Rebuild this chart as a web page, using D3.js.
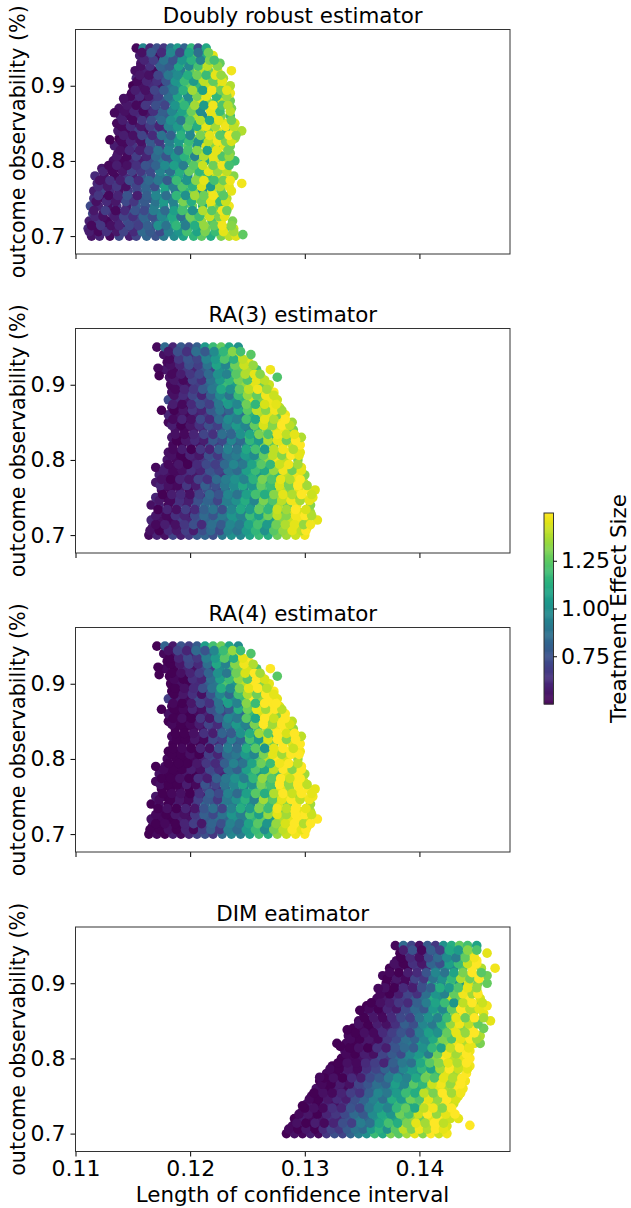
<!DOCTYPE html>
<html><head><meta charset="utf-8">
<script src="https://cdn.jsdelivr.net/npm/d3@7"></script>
<style>html,body{margin:0;padding:0;background:#fff}svg{display:block;font-family:"DejaVu Sans",sans-serif}</style>
</head><body><div id="c"></div>
<script>
// y rows: outcome observability
const rowY=[.70,.71,.72,.73,.74,.75,.76,.77,.78,.79,.80,.81,.82,.83,.84,.85,.86,.87,.88,.89,.90,.91,.92,.93,.94,.95];
const rowY2=[.706,.714,.726,.734,.746,.754,.766,.774,.786,.794,.806,.814,.826,.834,.846,.854,.866,.874,.886,.894,.906,.914,.926,.934,.944];
// x in 1e-4 units of CI length, effect in 1/100 units
const drX=[
[1114,1121,1130,1138,1147,1153,1162,1170,1177,1186,1194,1203,1210,1218,1227,1234,1240],
[1111,1118,1126,1134,1143,1150,1158,1166,1174,1182,1190,1198,1207,1214,1222,1230,1238],
[1112,1120,1128,1137,1145,1153,1161,1170,1178,1186,1195,1202,1210,1219,1227,1237],
[1115,1124,1132,1140,1148,1157,1165,1173,1182,1190,1198,1206,1215,1223,1231],
[1113,1120,1129,1136,1145,1153,1161,1169,1177,1186,1194,1202,1211,1219,1226,1234],
[1116,1125,1133,1141,1149,1157,1166,1174,1182,1190,1198,1207,1215,1223,1232],
[1116,1122,1130,1138,1146,1154,1162,1170,1178,1187,1195,1203,1211,1219,1227,1236],
[1119,1127,1135,1143,1151,1159,1167,1175,1183,1191,1199,1207,1215,1223,1231,1245],
[1117,1125,1134,1142,1150,1158,1166,1174,1182,1190,1198,1207,1215,1223,1231,1238],
[1123,1131,1139,1147,1155,1163,1171,1179,1187,1195,1203,1211,1219,1227,1232],
[1133,1141,1149,1157,1165,1173,1181,1189,1197,1205,1213,1221,1229,1239],
[1137,1145,1153,1161,1169,1177,1185,1193,1201,1209,1217,1225,1235],
[1134,1142,1150,1158,1166,1174,1182,1190,1198,1206,1214,1222,1230,1235],
[1138,1146,1154,1162,1170,1178,1186,1194,1202,1210,1218,1226,1233,1239],
[1137,1144,1152,1160,1168,1176,1184,1192,1200,1208,1216,1224,1232,1239,1245],
[1136,1142,1150,1158,1166,1174,1182,1190,1198,1206,1214,1222,1230,1239],
[1139,1147,1155,1163,1171,1179,1187,1195,1203,1211,1219,1227,1235],
[1138,1146,1154,1162,1170,1178,1186,1194,1202,1210,1218,1226,1236],
[1143,1151,1159,1167,1175,1183,1191,1199,1207,1215,1223,1228,1235],
[1149,1157,1165,1173,1181,1189,1197,1205,1213,1221,1229,1235],
[1150,1158,1166,1174,1182,1190,1198,1206,1214,1222,1228,1235],
[1153,1161,1169,1177,1185,1193,1201,1209,1217,1223,1229],
[1152,1160,1168,1176,1184,1192,1200,1208,1216,1224,1236],
[1157,1165,1173,1181,1189,1197,1205,1213,1221,1226],
[1156,1164,1172,1180,1188,1196,1204,1212,1220],
[1153,1159,1165,1171,1177,1183,1189,1195,1201,1207,1214]];
const drV=[
[55,60,52,72,58,70,82,75,90,98,108,115,125,112,130,140,145],
[62,55,50,68,54,75,82,73,92,105,96,118,110,128,138,125,142],
[58,66,52,60,74,70,85,80,100,112,98,125,135,122,146,130],
[70,55,64,52,78,68,88,95,84,110,120,104,132,144,136],
[72,60,54,66,58,80,76,92,102,96,118,128,112,140,126,148],
[64,52,74,60,70,86,78,98,90,122,108,134,120,146,138],
[58,70,62,54,68,76,84,92,104,88,116,130,100,142,128,146],
[60,55,72,66,80,74,88,100,112,96,124,106,136,146,130,148],
[62,54,52,64,58,78,72,90,104,110,98,128,118,142,148,132],
[56,60,52,68,62,76,88,82,108,96,130,120,146,124,140],
[54,52,62,58,74,92,80,100,118,132,112,146,136,118],
[52,60,54,72,66,86,104,96,126,140,110,148,130],
[58,52,66,56,78,70,94,110,124,100,144,132,146,128],
[50,64,56,72,62,90,98,108,134,116,148,122,140,136],
[56,52,68,54,76,64,96,110,102,142,126,146,120,148,138],
[52,60,54,64,74,60,100,92,126,108,140,124,146,144],
[58,52,62,56,82,78,106,116,138,98,146,130,120],
[54,56,68,60,52,92,86,112,128,146,110,148,130],
[54,60,52,66,76,94,120,104,146,132,118,142,128],
[52,58,54,64,84,100,118,110,136,146,124,148],
[50,54,62,56,88,104,126,116,142,130,146,138],
[60,52,56,72,94,110,104,132,124,148,136],
[54,58,52,80,96,92,124,140,128,146,148],
[56,52,74,86,90,118,108,134,144,126],
[58,70,54,92,80,100,122,112,146],
[52,96,60,74,66,90,104,82,116,72,110]];
const drX2=[
[1112,1120,1127,1136,1142,1151,1158,1165,1174,1181,1190,1197,1206,1213,1222,1229,1238],
[1114,1122,1131,1138,1147,1155,1163,1172,1179,1188,1196,1204,1212,1221,1228,1236],
[1117,1124,1134,1142,1150,1159,1167,1175,1184,1192,1200,1208,1217,1225,1230],
[1116,1126,1135,1143,1152,1160,1168,1178,1186,1193,1202,1211,1219,1228,1232],
[1118,1127,1135,1144,1151,1160,1170,1177,1185,1194,1201,1210,1218,1226,1231],
[1120,1129,1137,1145,1154,1162,1170,1179,1188,1196,1204,1212,1220,1229],
[1120,1128,1136,1144,1153,1161,1169,1178,1185,1193,1202,1210,1218,1226,1234],
[1121,1130,1139,1147,1155,1164,1172,1180,1188,1197,1205,1212,1221,1229,1235],
[1124,1132,1141,1149,1157,1165,1174,1183,1191,1199,1208,1216,1224,1232],
[1129,1136,1145,1153,1161,1170,1178,1186,1194,1203,1211,1220,1228,1234],
[1136,1145,1153,1162,1170,1179,1187,1195,1204,1212,1220,1228,1234],
[1139,1147,1156,1164,1172,1181,1190,1198,1206,1215,1223,1233],
[1140,1148,1157,1165,1173,1182,1190,1199,1207,1216,1224,1231,1236],
[1142,1150,1158,1167,1175,1183,1192,1200,1209,1217,1226,1234,1240],
[1140,1148,1157,1165,1173,1181,1189,1198,1206,1214,1222,1231,1238],
[1141,1150,1158,1166,1175,1183,1192,1200,1209,1217,1225,1236],
[1143,1151,1159,1168,1176,1184,1193,1201,1209,1218,1226,1235],
[1145,1153,1161,1170,1178,1187,1195,1204,1212,1220,1228,1233],
[1148,1156,1164,1172,1181,1189,1198,1206,1214,1223,1232],
[1152,1161,1169,1177,1186,1194,1202,1211,1219,1227,1232],
[1154,1162,1171,1179,1187,1195,1203,1212,1220,1228],
[1156,1164,1172,1181,1189,1198,1206,1214,1222,1227],
[1157,1165,1174,1182,1190,1199,1207,1215,1224],
[1160,1168,1177,1185,1193,1201,1209,1217,1221],
[1158,1166,1175,1183,1191,1199,1207,1216]];
const drV2=[
[58,52,64,56,70,62,84,78,72,94,102,120,108,130,118,146,136],
[52,66,54,60,72,68,80,100,88,116,92,112,134,126,148,132],
[60,54,58,70,64,82,74,96,110,86,128,118,142,130,146],
[56,68,52,62,76,72,92,84,106,120,100,138,124,148,128],
[54,62,56,72,66,78,88,104,94,130,112,126,146,118,142],
[66,52,60,76,58,80,96,86,116,100,136,128,148,124],
[62,56,66,54,70,82,74,108,92,122,114,144,104,138,146],
[54,64,58,74,62,84,90,78,118,102,132,146,120,128,148],
[60,52,56,70,66,72,94,86,112,126,116,146,134,140],
[52,58,54,64,76,82,98,106,92,124,142,128,148,120],
[56,52,68,60,84,76,102,114,94,138,146,122,134],
[54,62,58,70,88,96,84,120,132,108,146,128],
[52,60,54,78,66,92,104,118,100,140,148,130,144],
[58,54,70,62,88,80,114,96,130,146,124,150,132],
[52,62,56,68,60,94,104,124,112,146,136,148,140],
[58,52,66,74,84,100,90,122,138,110,146,128],
[54,60,52,64,80,96,108,128,98,146,118,140],
[56,52,66,74,70,102,116,136,104,148,122,138],
[52,62,56,68,86,108,98,130,146,116,134],
[58,54,70,78,92,114,136,106,148,128,146],
[52,60,64,76,102,118,104,140,126,146],
[56,54,70,90,98,112,128,118,146,134],
[54,64,82,78,108,96,120,140,132],
[60,68,88,76,102,114,94,130,120],
[54,78,62,96,70,108,86,128]];
const drExtraX=[1142,1134,1130,1246],drExtraY=[.883,.864,.828,.702],drExtraV=[54,52,50,125];

const raX=[
[1164,1171,1178,1185,1192,1199,1206,1213,1220,1228,1236,1244,1252,1260,1268,1276,1284,1292,1300],
[1167,1175,1183,1191,1199,1207,1215,1223,1231,1239,1247,1255,1263,1271,1279,1287,1295,1302],
[1166,1174,1182,1190,1198,1206,1214,1222,1230,1238,1246,1254,1262,1270,1278,1286,1294,1302,1311],
[1176,1184,1192,1200,1208,1216,1224,1232,1240,1248,1256,1264,1272,1280,1288,1296,1305],
[1166,1173,1181,1189,1197,1205,1213,1221,1229,1237,1245,1253,1261,1269,1277,1285,1293,1305],
[1170,1178,1186,1194,1202,1210,1218,1226,1234,1242,1250,1258,1266,1274,1282,1290,1298,1307],
[1175,1183,1191,1199,1207,1215,1223,1231,1239,1247,1255,1263,1271,1279,1287,1295,1303,1309],
[1170,1178,1186,1194,1202,1210,1218,1226,1234,1242,1250,1258,1266,1274,1282,1290,1299],
[1173,1181,1189,1197,1205,1213,1221,1229,1237,1245,1253,1261,1269,1277,1285,1293,1300],
[1170,1178,1186,1194,1202,1210,1218,1226,1234,1242,1250,1258,1266,1274,1282,1290,1297],
[1180,1188,1196,1204,1212,1220,1228,1236,1244,1252,1260,1268,1276,1284,1294],
[1181,1189,1197,1205,1213,1221,1229,1237,1245,1253,1261,1269,1277,1285,1296],
[1185,1193,1201,1209,1217,1225,1233,1241,1249,1257,1265,1273,1281,1289,1296],
[1184,1192,1200,1208,1216,1224,1232,1240,1248,1256,1264,1272,1280,1288,1297],
[1187,1195,1203,1211,1219,1227,1235,1243,1251,1259,1267,1275,1283,1290],
[1181,1189,1197,1205,1213,1221,1229,1237,1245,1253,1261,1269,1277,1289],
[1181,1189,1197,1205,1213,1221,1229,1237,1245,1253,1261,1269,1276,1283],
[1184,1192,1200,1208,1216,1224,1232,1240,1248,1256,1264,1272,1278],
[1181,1189,1197,1205,1213,1221,1229,1237,1245,1253,1261,1269,1276],
[1184,1192,1200,1208,1216,1224,1232,1240,1248,1256,1264,1273],
[1183,1191,1199,1207,1215,1223,1231,1239,1247,1255,1263,1269],
[1182,1190,1198,1206,1214,1222,1230,1238,1246,1254,1262,1276],
[1178,1186,1194,1202,1210,1218,1226,1234,1242,1250,1258,1270],
[1180,1188,1196,1204,1212,1220,1228,1236,1244,1251],
[1177,1185,1193,1201,1209,1217,1225,1233,1241,1253],
[1171,1178,1185,1192,1199,1206,1213,1220,1227,1234,1242]];
const ra3V=[
[52,60,54,70,58,66,78,82,74,90,100,96,108,118,112,128,136,142,148],
[56,52,64,54,72,80,84,76,98,92,104,116,110,130,124,140,146,138],
[60,54,52,68,60,76,82,90,86,102,96,114,122,108,132,142,148,140,146],
[58,52,62,56,70,84,78,94,100,90,112,120,134,126,146,144,136],
[54,60,52,66,58,74,88,80,96,92,108,100,124,116,138,128,148,132],
[60,52,62,54,70,64,82,92,88,104,96,118,112,134,142,130,148,146],
[54,52,58,52,66,74,70,86,100,94,110,122,116,140,132,146,150,144],
[56,62,52,60,54,72,68,82,90,106,96,120,104,136,128,146,140],
[58,54,52,62,56,70,78,66,92,98,112,104,128,118,140,148,132],
[52,60,54,50,64,58,74,54,86,94,104,96,120,110,142,130,146],
[56,52,50,58,66,78,72,88,84,102,118,134,148,140,130],
[54,52,62,56,60,76,86,82,98,92,120,108,136,148,146],
[52,50,58,54,74,66,88,80,94,108,130,124,146,142,150],
[56,50,52,62,72,80,74,92,118,100,136,116,148,140,138],
[54,52,56,60,70,78,84,102,90,118,132,144,148,130],
[52,58,50,64,60,72,90,84,106,96,142,130,148,136],
[60,54,52,58,66,80,74,96,88,114,138,146,128,148],
[56,52,50,62,72,78,66,100,92,120,134,148,140],
[72,62,56,76,70,88,108,100,116,144,130,148,142],
[54,52,64,74,68,96,114,104,128,146,138,150],
[52,58,54,68,82,92,118,106,134,146,128,142],
[54,60,52,76,66,94,84,112,130,108,146,122],
[56,52,66,60,78,72,100,116,126,138,120,148],
[52,62,70,80,84,96,118,108,130,146],
[54,58,72,64,92,86,110,126,144,124],
[52,84,60,78,70,80,104,118,126,110,100]];
const ra4V=[
[50,52,50,58,52,60,68,74,66,84,96,92,106,120,112,134,142,148,150],
[52,50,56,50,62,72,80,68,94,88,102,118,110,136,126,146,150,142],
[54,52,50,58,54,68,78,86,82,100,94,116,126,106,138,146,150,144,150],
[52,50,54,52,60,80,74,92,100,86,114,124,140,130,150,146,138],
[50,54,50,58,52,66,84,76,94,90,108,98,128,118,144,132,150,136],
[56,50,54,50,62,58,78,90,84,104,94,122,112,140,146,134,150,148],
[50,50,52,50,60,70,64,84,98,92,112,126,118,146,136,150,150,146],
[52,56,50,54,50,64,62,78,88,108,94,124,104,142,132,150,144],
[54,50,50,56,50,62,74,60,90,96,114,104,134,120,146,150,136],
[50,54,50,50,58,52,70,50,84,92,104,94,124,112,148,134,150],
[52,50,50,52,60,72,68,86,80,100,122,140,150,144,134],
[50,50,54,50,54,70,84,80,96,90,124,106,142,150,148],
[50,50,52,50,68,60,86,78,92,110,136,128,150,146,150],
[52,50,50,56,66,76,70,90,122,98,142,118,150,144,140],
[50,50,52,54,64,74,82,102,88,120,138,148,150,134],
[50,52,50,58,54,66,88,82,106,94,148,134,150,140],
[54,50,50,52,60,76,70,94,86,118,144,150,132,150],
[52,50,50,56,66,74,60,98,90,124,140,150,146],
[68,58,52,72,66,86,110,98,118,150,134,150,146],
[50,50,58,70,64,94,116,102,132,150,142,150],
[50,54,50,62,80,90,122,104,140,150,132,146],
[50,54,50,70,62,92,80,114,134,106,150,124],
[52,50,60,54,72,68,98,118,130,144,122,150],
[50,56,66,76,82,94,120,106,134,150],
[52,54,68,60,90,84,112,128,148,122],
[50,82,56,76,68,78,106,120,128,108,98]];
const raX2=[
[1165,1173,1181,1188,1196,1203,1211,1218,1226,1233,1241,1249,1257,1265,1273,1281,1289,1297,1301],
[1170,1178,1187,1195,1203,1210,1219,1227,1235,1243,1251,1259,1267,1275,1283,1291,1299,1305],
[1170,1179,1187,1195,1204,1212,1220,1228,1236,1244,1252,1260,1268,1276,1284,1292,1300,1306],
[1172,1180,1188,1196,1204,1212,1220,1228,1236,1244,1252,1260,1268,1276,1284,1292,1301],
[1173,1183,1191,1199,1207,1215,1224,1232,1240,1248,1256,1264,1272,1280,1288,1296,1304],
[1176,1184,1192,1200,1208,1217,1225,1233,1241,1249,1257,1265,1273,1281,1289,1297,1306],
[1174,1181,1189,1197,1205,1213,1222,1230,1238,1246,1254,1262,1270,1278,1286,1294,1302],
[1175,1183,1191,1199,1207,1215,1223,1231,1239,1247,1255,1263,1271,1279,1287,1296],
[1177,1185,1193,1201,1209,1217,1225,1233,1241,1249,1257,1265,1273,1281,1289,1297],
[1181,1190,1198,1206,1214,1222,1230,1238,1246,1254,1262,1270,1278,1286,1294],
[1184,1192,1200,1208,1216,1224,1232,1240,1248,1256,1264,1272,1280,1288,1295],
[1185,1193,1201,1209,1217,1225,1233,1241,1249,1257,1265,1273,1281,1290],
[1188,1196,1204,1212,1220,1228,1236,1244,1252,1260,1268,1276,1284,1292],
[1187,1195,1203,1212,1220,1228,1236,1244,1252,1260,1268,1276,1284,1291],
[1184,1192,1200,1208,1216,1224,1232,1240,1248,1256,1264,1272,1280,1287],
[1185,1193,1201,1209,1217,1225,1233,1241,1249,1257,1265,1273,1283],
[1186,1194,1202,1210,1218,1226,1234,1242,1250,1258,1266,1274,1280],
[1185,1193,1201,1209,1217,1225,1233,1241,1249,1257,1265,1275],
[1186,1194,1202,1210,1218,1226,1234,1242,1250,1258,1266,1273],
[1187,1195,1203,1211,1219,1227,1235,1243,1251,1259,1267],
[1186,1194,1202,1210,1218,1226,1234,1242,1250,1258,1265],
[1184,1192,1200,1208,1216,1224,1232,1240,1248,1256,1261],
[1183,1191,1199,1207,1215,1223,1231,1239,1247,1255],
[1182,1190,1198,1206,1214,1222,1230,1238,1246],
[1181,1189,1197,1205,1213,1221,1229,1237,1244]];
const ra3V2=[
[54,50,62,56,68,58,74,84,72,94,88,104,116,100,124,134,146,140,150],
[52,58,54,66,74,62,86,78,96,90,108,120,104,128,138,146,134,148],
[56,52,64,60,72,84,76,90,102,94,118,106,128,140,132,148,150,138],
[50,60,54,68,62,80,88,74,96,110,104,126,116,142,136,150,144],
[56,52,64,58,74,82,70,92,100,112,96,130,122,140,148,136,146],
[50,58,62,54,70,84,76,96,88,106,120,112,132,146,138,150,142],
[60,54,52,66,58,80,74,90,98,110,102,126,118,144,130,150,136],
[54,50,60,56,70,64,84,92,100,94,114,130,122,146,138,150],
[58,52,54,64,60,76,70,90,84,106,118,110,134,148,128,146],
[52,56,50,62,72,68,84,96,90,108,124,116,142,148,136],
[54,50,60,56,74,66,86,92,104,98,126,140,132,150,146],
[52,58,50,66,60,80,94,88,110,120,104,140,148,138],
[50,56,62,58,78,72,96,84,116,104,138,146,128,150],
[54,52,60,70,64,86,82,100,110,130,122,148,140,146],
[58,50,56,64,74,68,92,104,96,126,144,132,150,140],
[52,60,54,72,62,84,98,92,120,110,146,138,150],
[50,56,66,60,78,90,82,110,124,140,132,148,136],
[58,52,62,74,68,90,104,96,128,116,144,146],
[54,62,70,60,80,98,88,118,134,126,148,142],
[52,60,66,78,90,110,100,126,140,148,136],
[56,52,70,64,88,104,116,130,122,146,140],
[52,58,66,72,84,100,94,124,138,146,132],
[54,60,74,68,88,108,96,128,142,134],
[52,66,76,70,94,104,122,114,140],
[56,74,64,86,78,98,116,132,120]];
const ra4V2=[
[50,50,54,50,60,52,68,80,66,92,84,104,118,98,130,140,150,146,150],
[50,52,50,60,68,56,82,74,94,86,108,124,102,134,144,150,138,150],
[52,50,56,54,66,80,72,88,102,92,120,106,134,146,136,150,150,142],
[50,54,50,60,56,76,86,70,94,112,104,130,118,148,140,150,146],
[52,50,56,52,68,78,66,90,100,114,94,136,124,146,150,140,148],
[50,52,54,50,64,80,72,94,84,106,124,112,138,150,142,150,146],
[54,50,50,58,52,76,70,88,96,110,100,130,120,150,134,150,140],
[50,50,54,50,64,58,80,90,100,92,116,134,124,150,142,150],
[52,50,50,58,54,72,64,88,80,106,122,110,140,150,132,150],
[50,50,50,56,66,62,80,94,88,108,128,118,148,150,140],
[50,50,54,50,68,60,84,90,104,96,130,146,136,150,150],
[50,52,50,60,54,76,92,84,112,124,102,146,150,142],
[50,50,56,52,72,68,94,82,120,104,144,150,132,150],
[50,50,54,64,58,82,78,100,112,136,124,150,144,150],
[52,50,52,58,70,62,90,104,94,130,150,136,150,144],
[50,54,50,66,56,80,96,90,124,110,150,142,150],
[50,52,60,54,74,88,78,112,128,146,136,150,140],
[52,50,56,70,64,88,106,94,132,118,150,150],
[50,56,64,54,76,96,84,120,138,128,150,146],
[50,54,62,74,88,112,98,130,146,150,140],
[52,50,64,60,86,106,118,134,124,150,144],
[50,54,60,68,82,100,90,128,144,150,136],
[50,56,70,62,86,110,94,132,148,138],
[50,60,72,66,92,104,124,112,146],
[54,70,60,84,76,96,118,134,118]];
const raExtraX=[1172,1173,1175],raExtraY=[.922,.912,.866],ra3ExtraV=[52,50,50],ra4ExtraV=[50,50,50];

const dimX=[
[1284,1291,1298,1305,1312,1319,1326,1333,1340,1347,1354,1361,1368,1375,1382,1389,1396,1403,1410,1417,1424],
[1289,1297,1305,1313,1321,1329,1337,1345,1353,1361,1369,1377,1385,1393,1401,1409,1417,1424],
[1291,1299,1307,1315,1323,1331,1339,1347,1355,1363,1371,1379,1387,1395,1403,1411,1419,1427,1434],
[1298,1306,1314,1322,1330,1338,1346,1354,1362,1370,1378,1386,1394,1402,1410,1418,1427],
[1302,1310,1318,1326,1334,1342,1350,1358,1366,1374,1382,1390,1398,1406,1414,1422,1430],
[1306,1314,1322,1330,1338,1346,1354,1362,1370,1378,1386,1394,1402,1410,1418,1426,1434],
[1310,1318,1326,1334,1342,1350,1358,1366,1374,1382,1390,1398,1406,1414,1422,1430,1438],
[1313,1321,1329,1337,1345,1353,1361,1369,1377,1385,1393,1401,1409,1417,1425,1433,1440],
[1319,1327,1335,1343,1351,1359,1367,1375,1383,1391,1399,1407,1415,1423,1431,1441],
[1324,1332,1340,1348,1356,1364,1372,1380,1388,1396,1404,1412,1420,1428,1436,1444],
[1332,1340,1348,1356,1364,1372,1380,1388,1396,1404,1412,1420,1428,1436,1444],
[1335,1343,1351,1359,1367,1375,1383,1391,1399,1407,1415,1423,1431,1439,1444],
[1328,1336,1344,1352,1360,1368,1376,1384,1392,1400,1408,1416,1424,1432,1440,1448,1453],
[1338,1346,1354,1362,1370,1378,1386,1394,1402,1410,1418,1426,1434,1442,1453],
[1342,1350,1358,1366,1374,1382,1390,1398,1406,1414,1422,1430,1438,1446,1456],
[1347,1355,1363,1371,1379,1387,1395,1403,1411,1419,1427,1435,1443,1451,1462],
[1351,1359,1367,1375,1383,1391,1399,1407,1415,1423,1431,1439,1447,1456],
[1354,1362,1370,1378,1386,1394,1402,1410,1418,1426,1434,1442,1450,1459],
[1363,1371,1379,1387,1395,1403,1411,1419,1427,1435,1443,1453],
[1367,1375,1383,1391,1399,1407,1415,1423,1431,1439,1450],
[1371,1379,1387,1395,1403,1411,1419,1427,1435,1443,1451,1459],
[1368,1376,1384,1392,1400,1408,1416,1424,1432,1440,1448,1459],
[1374,1382,1390,1398,1406,1414,1422,1430,1438,1446,1454,1466],
[1380,1388,1396,1404,1412,1420,1428,1436,1444,1450],
[1383,1391,1399,1407,1415,1423,1431,1439,1447,1459],
[1379,1386,1393,1400,1407,1414,1421,1428,1435,1442,1450]];
const dimV=[
[50,54,52,58,52,66,74,70,82,92,100,118,110,130,124,136,146,132,150,142,148],
[52,56,50,54,62,72,78,88,96,104,116,128,120,138,148,140,150,144],
[50,58,52,56,64,60,76,90,82,100,112,106,124,134,128,146,150,142,146],
[54,52,62,58,70,80,74,96,88,108,120,100,132,144,150,138,146],
[56,50,60,54,66,74,84,92,104,98,118,110,126,148,136,150,142],
[52,54,50,62,58,78,70,92,100,110,96,124,136,128,150,140,146],
[54,50,58,52,66,72,84,90,102,96,118,112,132,146,138,150,148],
[50,56,52,60,74,68,88,80,100,108,122,114,140,130,150,144,148],
[52,50,58,54,68,76,72,92,86,106,100,130,118,146,136,150],
[50,52,56,60,66,74,84,78,98,108,114,138,126,150,142,148],
[50,52,54,58,72,66,84,94,106,118,132,150,140,146,150],
[54,50,52,62,58,70,80,92,100,112,126,144,150,136,148],
[50,52,50,56,54,64,76,84,90,104,96,124,132,148,138,146,130],
[52,50,54,60,66,74,82,78,98,112,104,136,150,142,138],
[50,52,50,62,58,70,76,88,102,96,118,146,132,150,128],
[52,50,56,60,68,64,80,94,100,108,140,122,148,124,146],
[54,58,52,64,70,76,86,98,114,104,132,150,138,146],
[50,60,54,66,74,72,90,106,100,122,140,150,136,148],
[52,56,62,68,78,86,112,100,140,128,150,144],
[54,50,60,74,70,84,100,116,132,146,138],
[50,54,52,64,76,110,96,120,104,144,130,126],
[52,50,60,56,72,82,92,124,110,138,150,128],
[50,54,50,66,60,86,102,96,122,150,138,148],
[52,56,64,58,76,100,90,130,146,150],
[50,72,60,66,78,92,112,118,140,146],
[52,84,70,54,78,66,100,112,126,120,108]];
const dimX2=[
[1286,1294,1301,1309,1316,1323,1330,1337,1344,1351,1358,1365,1372,1379,1386,1393,1400,1407,1414,1421],
[1293,1301,1309,1317,1325,1333,1341,1349,1357,1365,1373,1381,1389,1397,1405,1413,1421],
[1295,1303,1311,1319,1327,1335,1343,1351,1359,1367,1375,1383,1391,1399,1407,1415,1423,1431],
[1300,1308,1316,1324,1332,1340,1348,1356,1364,1372,1380,1388,1396,1404,1412,1420,1428],
[1304,1312,1320,1328,1336,1344,1352,1360,1368,1376,1384,1392,1400,1408,1416,1424,1432],
[1308,1316,1324,1332,1340,1348,1356,1364,1372,1380,1388,1396,1404,1412,1420,1428,1436],
[1315,1323,1331,1339,1347,1355,1363,1371,1379,1387,1395,1403,1411,1419,1427,1436],
[1317,1325,1333,1341,1349,1357,1365,1373,1381,1389,1397,1405,1413,1421,1429,1437],
[1322,1330,1338,1346,1354,1362,1370,1378,1386,1394,1402,1410,1418,1426,1434,1442],
[1329,1337,1345,1353,1361,1369,1377,1385,1393,1401,1409,1417,1425,1433,1441],
[1336,1344,1352,1360,1368,1376,1384,1392,1400,1408,1416,1424,1432,1441],
[1339,1347,1355,1363,1371,1379,1387,1395,1403,1411,1419,1427,1435,1443],
[1340,1348,1356,1364,1372,1380,1388,1396,1404,1412,1420,1428,1436,1444,1450],
[1344,1352,1360,1368,1376,1384,1392,1400,1408,1416,1424,1432,1440,1448],
[1347,1355,1363,1371,1379,1387,1395,1403,1411,1419,1427,1435,1443,1451],
[1352,1360,1368,1376,1384,1392,1400,1408,1416,1424,1432,1440,1448,1456],
[1356,1364,1372,1380,1388,1396,1404,1412,1420,1428,1436,1444,1452],
[1358,1366,1374,1382,1390,1398,1406,1414,1422,1430,1438,1446,1455],
[1366,1374,1382,1390,1398,1406,1414,1422,1430,1438,1446,1451],
[1370,1378,1386,1394,1402,1410,1418,1426,1434,1442,1450],
[1372,1380,1388,1396,1404,1412,1420,1428,1436,1444,1452],
[1374,1382,1390,1398,1406,1414,1422,1430,1438,1446,1454],
[1378,1386,1394,1402,1410,1418,1426,1434,1442,1450],
[1384,1392,1400,1408,1416,1424,1432,1440,1448],
[1386,1394,1402,1410,1418,1426,1434,1442,1450]];
const dimV2=[
[52,50,56,50,62,70,66,78,88,84,104,114,100,124,140,130,148,138,150,146],
[54,50,58,52,60,74,68,92,86,108,120,112,130,146,136,150,140],
[52,56,50,60,66,72,84,78,98,110,102,128,120,142,150,134,146,150],
[50,54,52,64,60,76,70,90,100,94,116,126,110,140,148,132,150],
[52,50,56,62,58,74,82,94,86,112,104,128,122,146,134,150,144],
[50,54,52,60,68,64,80,96,90,104,118,112,140,130,150,136,148],
[52,50,58,54,70,76,86,82,106,96,124,116,142,148,134,150],
[50,54,50,62,58,72,78,90,100,94,110,128,122,146,138,150],
[52,50,56,52,64,70,82,76,96,104,116,108,136,150,142,146],
[50,54,52,62,68,60,80,90,86,110,124,132,146,138,150],
[52,50,58,54,70,78,72,96,104,92,128,148,136,150],
[50,54,50,64,58,76,84,80,100,116,108,140,150,146],
[52,50,56,52,66,72,86,82,96,110,130,122,146,150,136],
[50,54,52,62,68,76,70,92,106,100,126,146,134,150],
[54,50,58,54,64,80,74,96,90,114,134,148,140,126],
[50,56,52,62,72,68,88,100,94,118,146,128,150,136],
[52,50,60,56,72,84,78,104,96,126,150,138,146],
[50,54,58,66,62,80,92,108,118,102,140,150,142],
[52,50,58,70,64,86,102,94,126,148,136,150],
[54,50,62,58,74,80,112,104,122,146,134],
[50,56,52,70,66,88,100,116,138,128,150],
[52,50,58,62,76,96,88,108,130,150,124],
[54,50,64,56,82,74,106,118,142,150],
[50,62,54,72,84,98,92,126,148],
[58,76,52,80,68,110,104,132,122]];
const dimExtraX=[1348,1337,1331,1313,1298,1364,1444],dimExtraY=[.864,.838,.816,.775,.737,.893,.711],dimExtraV=[50,50,50,52,50,52,150];

const titles=["Doubly robust estimator","RA(3) estimator","RA(4) estimator","DIM eatimator"];
const yTicks=[.7,.8,.9],xTicks=[.11,.12,.13,.14],cbTicks=[.75,1,1.25];
const xDomain=[.11,.1479],yDomain=[.6762,.9748],vDomain=[.5,1.5];

const W=631,H=1208,L=75.5,R=510,PH=224.5;
const tops=[29.5,328.5,627.5,927];
const panels=[
 [drX,drV,drX2,drV2,drExtraX,drExtraY,drExtraV],
 [raX,ra3V,raX2,ra3V2,raExtraX,raExtraY,ra3ExtraV],
 [raX,ra4V,raX2,ra4V2,raExtraX,raExtraY,ra4ExtraV],
 [dimX,dimV,dimX2,dimV2,dimExtraX,dimExtraY,dimExtraV]];
const color=d3.scaleSequential(d3.interpolateViridis).domain(vDomain);
const x=d3.scaleLinear().domain(xDomain).range([L,R]);
const svg=d3.select("#c").append("svg").attr("width",W).attr("height",H);
function style(g){g.selectAll("text").attr("fill","#000").style("font-size","22px").style("font-family",'"DejaVu Sans",sans-serif');
 g.selectAll("line").attr("stroke","#000").attr("stroke-width",1);g.selectAll(".domain").remove();}
panels.forEach((p,i)=>{
 const top=tops[i],y=d3.scaleLinear().domain(yDomain).range([top+PH,top]);
 const pts=[];
 p[0].forEach((row,r)=>row.forEach((xv,k)=>pts.push({x:xv/1e4,y:rowY[r],v:p[1][r][k]/100})));
 p[2].forEach((row,r)=>row.forEach((xv,k)=>pts.push({x:xv/1e4,y:rowY2[r],v:p[3][r][k]/100})));
 p[4].forEach((xv,k)=>pts.push({x:xv/1e4,y:p[5][k],v:p[6][k]/100}));
 const g=svg.append("g");
 g.selectAll("circle").data(pts).join("circle").attr("cx",d=>x(d.x)).attr("cy",d=>y(d.y)).attr("r",4.8).attr("fill",d=>color(d.v));
 const ax=g.append("g").attr("transform",`translate(0,${top+PH})`).call(d3.axisBottom(x).tickValues(xTicks).tickFormat(i==3?d3.format(".2f"):"").tickSize(5).tickPadding(4));style(ax);
 const ay=g.append("g").attr("transform",`translate(${L},0)`).call(d3.axisLeft(y).tickValues(yTicks).tickFormat(d3.format(".1f")).tickSize(5).tickPadding(5));style(ay);
 g.append("rect").attr("x",L).attr("y",top).attr("width",R-L).attr("height",PH).attr("fill","none").attr("stroke","#333").attr("stroke-width",1);
 g.append("text").attr("x",(L+R)/2).attr("y",top-6.5).attr("text-anchor","middle").style("font-size","21.4px").text(titles[i]);
 g.append("text").attr("transform",`translate(25,${top+PH/2}) rotate(-90)`).attr("text-anchor","middle").style("font-size","20.7px").text("outcome observability (%)");
});
svg.append("text").attr("x",292.5).attr("y",1202).attr("text-anchor","middle").style("font-size","21.4px").text("Length of confidence interval");
// colorbar
const cbL=544,cbW=9.5,cbT=513,cbB=704;
const cy=d3.scaleLinear().domain(vDomain).range([cbB,cbT]);
const cb=svg.append("g");
cb.selectAll("rect").data(d3.range(.5,1.5,.005)).join("rect").attr("x",cbL).attr("width",cbW).attr("y",d=>cy(d+.005)).attr("height",d=>cy(d)-cy(d+.005)+.5).attr("fill",d=>color(d));
cb.append("rect").attr("x",cbL).attr("y",cbT).attr("width",cbW).attr("height",cbB-cbT).attr("fill","none").attr("stroke","#333").attr("stroke-width",1);
const cax=cb.append("g").attr("transform",`translate(${cbL+cbW},0)`).call(d3.axisRight(cy).tickValues(cbTicks).tickFormat(d3.format(".2f")).tickSize(3.5).tickPadding(4));style(cax);
svg.append("text").attr("transform",`translate(626,608.5) rotate(-90)`).attr("text-anchor","middle").style("font-size","21.5px").text("Treatment Effect Size");
</script></body></html>
